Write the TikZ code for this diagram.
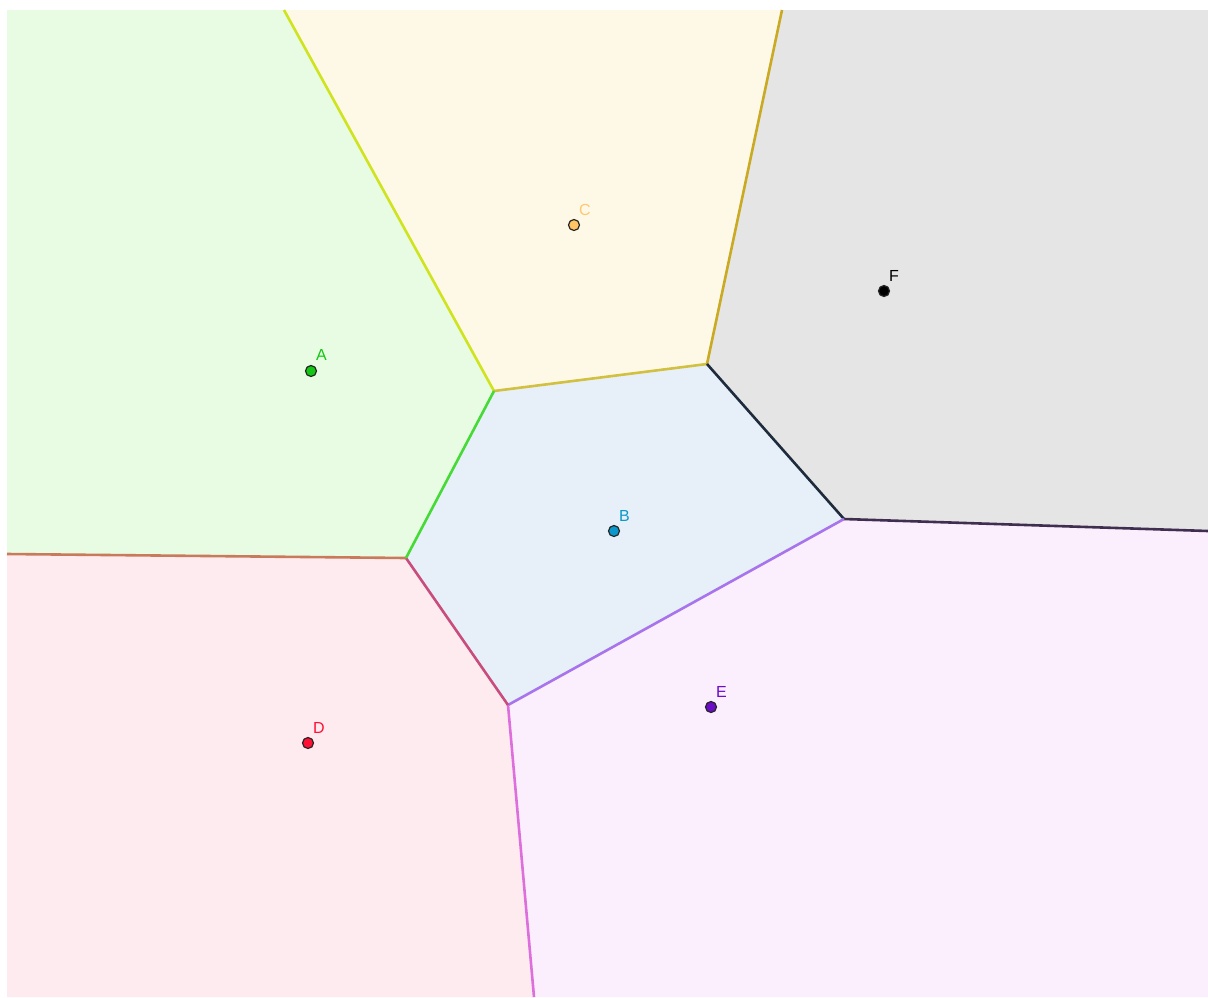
\documentclass[tikz,border=0pt]{standalone}
\usepackage{fontspec}
\setmainfont{Liberation Sans}
\definecolor{fillA}{HTML}{E8FCE4}
\definecolor{fillC}{HTML}{FEF9E7}
\definecolor{fillF}{HTML}{E5E5E5}
\definecolor{fillB}{HTML}{E7F0F9}
\definecolor{fillD}{HTML}{FEEBEF}
\definecolor{fillE}{HTML}{FBEEFD}
\definecolor{eAC}{HTML}{CFE31E}
\definecolor{eBC}{HTML}{D2C040}
\definecolor{eCF}{HTML}{C9AA22}
\definecolor{eBF}{HTML}{1E2B3C}
\definecolor{eEF}{HTML}{3F2E50}
\definecolor{eBE}{HTML}{A874EC}
\definecolor{eDE}{HTML}{DD6FDC}
\definecolor{eBD}{HTML}{C84C7C}
\definecolor{eAD}{HTML}{C87A5A}
\definecolor{eAB}{HTML}{46DA36}
\definecolor{pA}{HTML}{12C812}
\definecolor{pC}{HTML}{FFC464}
\definecolor{pF}{HTML}{000000}
\definecolor{pB}{HTML}{0A98CC}
\definecolor{pD}{HTML}{FF1034}
\definecolor{pE}{HTML}{6A0CC8}
\definecolor{lC}{HTML}{FFC870}
\tikzset{
  site/.style={circle,draw=black!85,line width=1.2pt,inner sep=0pt,minimum size=11pt},
  lbl/.style={font=\fontsize{16}{18}\selectfont,inner sep=0pt,anchor=base west},
  edge/.style={line width=2.6pt,line join=round}
}
\begin{document}
\begin{tikzpicture}[x=1pt,y=-1pt]
\useasboundingbox (0,0) rectangle (1208,997);
% vertices
\coordinate (TL) at (7,10);
\coordinate (TR) at (1208,10);
\coordinate (BL) at (7,997);
\coordinate (BR) at (1208,997);
\coordinate (V1) at (284,10);
\coordinate (V2) at (494,391);
\coordinate (V3) at (707,364);
\coordinate (V4) at (782,10);
\coordinate (V5) at (844,519);
\coordinate (V6) at (1208,531);
\coordinate (V7) at (406,558);
\coordinate (V8) at (7,554);
\coordinate (V9) at (508,705);
\coordinate (V10) at (534,997);
% cells
\fill[fillA] (TL) -- (V1) -- (V2) -- (V7) -- (V8) -- cycle;
\fill[fillC] (V1) -- (V4) -- (V3) -- (V2) -- cycle;
\fill[fillF] (V4) -- (TR) -- (V6) -- (V5) -- (V3) -- cycle;
\fill[fillB] (V2) -- (V3) -- (V5) -- (V9) -- (V7) -- cycle;
\fill[fillD] (V8) -- (V7) -- (V9) -- (V10) -- (BL) -- cycle;
\fill[fillE] (V9) -- (V5) -- (V6) -- (BR) -- (V10) -- cycle;
% edges
\draw[edge,eAC] (V1) -- (V2);
\draw[edge,eBC] (V2) -- (V3);
\draw[edge,eCF] (V3) -- (V4);
\draw[edge,eBF] (V3) -- (V5);
\draw[edge,eEF] (V5) -- (V6);
\draw[edge,eBE] (V5) -- (V9);
\draw[edge,eDE] (V9) -- (V10);
\draw[edge,eBD] (V7) -- (V9);
\draw[edge,eAD] (V7) -- (V8);
\draw[edge,eAB] (V2) -- (V7);
% sites
\node[site,fill=pA] (A) at (311,371) {};
\node[site,fill=pC] (C) at (574,225) {};
\node[site,fill=pF] (F) at (884,291) {};
\node[site,fill=pB] (B) at (614,531) {};
\node[site,fill=pD] (D) at (308,743) {};
\node[site,fill=pE] (E) at (711,707) {};
% labels
\node[lbl,text=pA] (lA) at (316,360) {A};
\node[lbl,text=lC] (lC) at (579,215) {C};
\node[lbl,text=black] (lF) at (889,281) {F};
\node[lbl,text=pB] (lB) at (619,521) {B};
\node[lbl,text=pD] (lD) at (313,733) {D};
\node[lbl,text=pE] (lE) at (716,697) {E};
\end{tikzpicture}
\end{document}
